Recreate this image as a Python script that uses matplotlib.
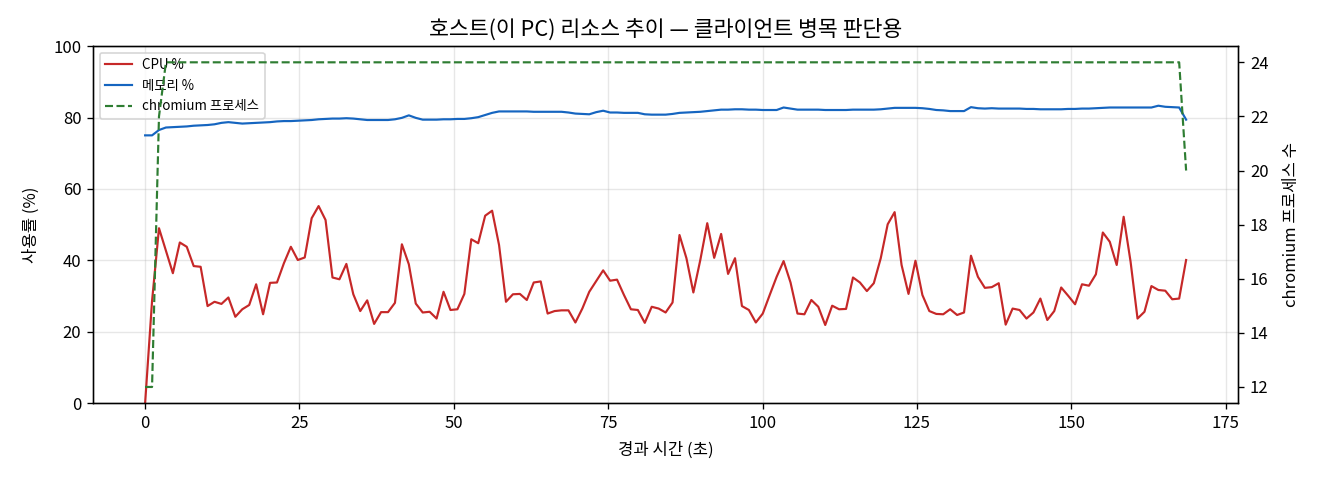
import matplotlib
matplotlib.use("Agg")
import matplotlib.pyplot as plt
import numpy as np

plt.rcParams['font.family'] = ['Noto Sans CJK KR', 'DejaVu Sans']
plt.rcParams['axes.unicode_minus'] = False

# sampled roughly every 1.124 s, 151 samples
sample_dt = 1.124
cpu = [0.0, 28.6, 49.0, 42.7, 36.4, 45.0, 43.8, 38.4, 38.2, 27.2,
       28.4, 27.8, 29.6, 24.2, 26.3, 27.5, 33.3, 24.9, 33.7, 33.8,
       39.2, 43.8, 40.1, 40.8, 51.8, 55.2, 51.3, 35.2, 34.7, 39.0,
       30.5, 25.8, 28.8, 22.2, 25.5, 25.5, 28.1, 44.5, 38.9, 27.9,
       25.4, 25.6, 23.7, 31.2, 26.1, 26.3, 30.6, 45.9, 44.8, 52.5,
       53.9, 44.3, 28.4, 30.5, 30.6, 28.9, 33.8, 34.1, 25.1, 25.8,
       26.0, 26.0, 22.6, 26.5, 31.2, 34.2, 37.2, 34.3, 34.6, 30.3,
       26.3, 26.1, 22.5, 27.0, 26.5, 25.4, 28.2, 47.1, 40.6, 31.0,
       40.1, 50.4, 40.7, 47.4, 36.2, 40.6, 27.2, 26.1, 22.6, 25.1,
       30.3, 35.4, 39.8, 33.8, 25.1, 24.9, 28.9, 27.0, 21.9, 27.3,
       26.3, 26.4, 35.2, 33.8, 31.4, 33.6, 40.6, 50.1, 53.5, 38.7,
       30.6, 39.9, 30.3, 25.8, 25.0, 24.9, 26.3, 24.7, 25.4, 41.3,
       35.4, 32.3, 32.5, 33.6, 22.0, 26.5, 26.1, 23.7, 25.4, 29.3,
       23.3, 25.8, 32.4, 30.1, 27.7, 33.3, 32.9, 36.1, 47.8, 45.2,
       38.7, 52.2, 39.6, 23.7, 25.6, 32.8, 31.7, 31.5, 29.1, 29.3,
       40.1]
mem = [75.0, 75.0, 76.5, 77.2, 77.3, 77.4, 77.5, 77.7, 77.8, 77.9,
       78.1, 78.5, 78.7, 78.5, 78.3, 78.4, 78.5, 78.6, 78.7, 78.9,
       79.0, 79.0, 79.1, 79.2, 79.3, 79.5, 79.6, 79.7, 79.7, 79.8,
       79.7, 79.5, 79.3, 79.3, 79.3, 79.3, 79.5, 79.9, 80.6, 79.9,
       79.4, 79.4, 79.4, 79.5, 79.5, 79.6, 79.6, 79.8, 80.1, 80.7,
       81.3, 81.7, 81.7, 81.7, 81.7, 81.7, 81.6, 81.6, 81.6, 81.6,
       81.6, 81.4, 81.1, 81.0, 80.9, 81.5, 81.9, 81.4, 81.4, 81.3,
       81.3, 81.3, 80.9, 80.8, 80.8, 80.8, 81.0, 81.3, 81.4, 81.5,
       81.6, 81.8, 82.0, 82.2, 82.2, 82.3, 82.3, 82.2, 82.2, 82.1,
       82.1, 82.1, 82.8, 82.5, 82.2, 82.2, 82.2, 82.2, 82.1, 82.1,
       82.1, 82.1, 82.2, 82.2, 82.2, 82.2, 82.3, 82.5, 82.7, 82.7,
       82.7, 82.7, 82.6, 82.4, 82.1, 82.0, 81.8, 81.8, 81.8, 82.9,
       82.6, 82.5, 82.6, 82.5, 82.5, 82.5, 82.5, 82.4, 82.4, 82.3,
       82.3, 82.3, 82.3, 82.4, 82.4, 82.5, 82.5, 82.6, 82.7, 82.8,
       82.8, 82.8, 82.8, 82.8, 82.8, 82.8, 83.3, 83.0, 82.9, 82.8,
       79.4]
procs = [12, 12, 22] + [24] * 147 + [20]

t = np.arange(len(cpu)) * sample_dt

fig, ax = plt.subplots(figsize=(11, 4), dpi=120)
fig.subplots_adjust(left=0.0705, right=0.938, top=0.904, bottom=0.16)

l1, = ax.plot(t, cpu, color='#c62828', lw=1.3, label='CPU %')
l2, = ax.plot(t, mem, color='#1565c0', lw=1.3, label='메모리 %')
ax.set_ylim(0, 100)
ax.set_xlabel('경과 시간 (초)', labelpad=6)
ax.set_ylabel('사용률 (%)', labelpad=8)
ax.grid(True, alpha=0.3)
ax.set_title('호스트(이 PC) 리소스 추이 — 클라이언트 병목 판단용', fontsize=13)

ax2 = ax.twinx()
l3, = ax2.plot(t, procs, color='#2e7d32', lw=1.3, ls='--', label='chromium 프로세스')
ax2.set_ylabel('chromium 프로세스 수', labelpad=9)

ax.legend(handles=[l1, l2, l3], loc='upper left', fontsize=8)

fig.savefig('out.png')
